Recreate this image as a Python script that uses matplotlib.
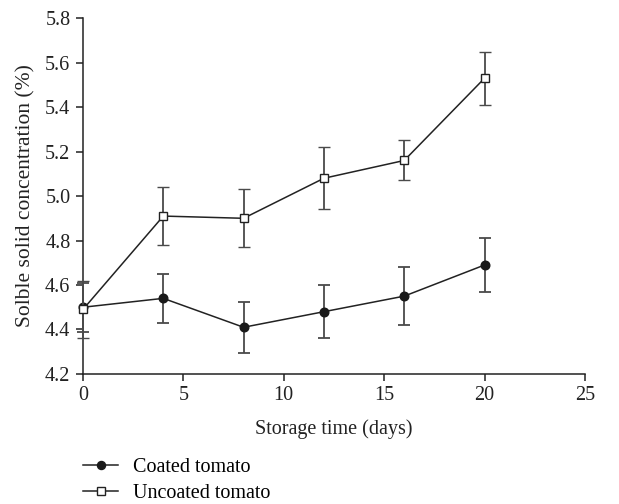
import matplotlib
matplotlib.use("Agg")
import matplotlib.pyplot as plt
from matplotlib.lines import Line2D

plt.rcParams['font.family'] = ['Liberation Serif', 'DejaVu Serif']

days = [0, 4, 8, 12, 16, 20]
coated = [4.50, 4.54, 4.41, 4.48, 4.55, 4.69]
coated_err = [0.11, 0.11, 0.115, 0.12, 0.13, 0.12]
uncoated = [4.49, 4.91, 4.90, 5.08, 5.16, 5.53]
uncoated_err = [0.13, 0.13, 0.13, 0.14, 0.09, 0.12]
xticks = [0, 5, 10, 15, 20, 25]
yticks = [4.2, 4.4, 4.6, 4.8, 5.0, 5.2, 5.4, 5.6, 5.8]

FS = 14.5
fig = plt.figure(figsize=(6.19, 5.04), dpi=100)
ax = fig.add_axes([0.134, 0.258, 0.811, 0.706])

ax.errorbar(days, coated, yerr=coated_err, color='#222222', ecolor='#4a4a4a',
            marker='o', markersize=6.2, markerfacecolor='#1a1a1a', markeredgecolor='#1a1a1a',
            linewidth=1.1, capsize=4.5, elinewidth=1.3, capthick=1.3, clip_on=False, zorder=3)
ax.errorbar(days, uncoated, yerr=uncoated_err, color='#222222', ecolor='#4a4a4a',
            marker='s', markersize=6, markerfacecolor='white', markeredgecolor='#222222',
            markeredgewidth=1.0, linewidth=1.1, capsize=4.5, elinewidth=1.3, capthick=1.3,
            clip_on=False, zorder=4)

ax.set_xlim(0, 25)
ax.set_ylim(4.2, 5.8)
ax.set_xticks(xticks)
ax.set_yticks(yticks)
ax.set_yticklabels([f"{v:.1f}" for v in yticks])
for s in ['top', 'right']:
    ax.spines[s].set_visible(False)
for s in ['left', 'bottom']:
    ax.spines[s].set_linewidth(1.1)
    ax.spines[s].set_color('#222222')
ax.tick_params(direction='out', length=5, width=1.1, labelsize=FS, colors='#222222', pad=4)
ax.set_xlabel('Storage time (days)', fontsize=FS, color='#222222', labelpad=10)
ax.set_ylabel('Solble solid concentration (%)', fontsize=15.5, color='#222222', labelpad=7)

handles = [
    Line2D([0], [0], color='#222222', marker='o', markersize=5.8, markerfacecolor='#1a1a1a',
           markeredgecolor='#1a1a1a', linewidth=1.1),
    Line2D([0], [0], color='#222222', marker='s', markersize=5.5, markerfacecolor='white',
           markeredgecolor='#222222', linewidth=1.1),
]
fig.legend(handles, ['Coated tomato', 'Uncoated tomato'], loc='center left',
           bbox_to_anchor=(0.134, 0.047), frameon=False, fontsize=FS, handlelength=1.75,
           handletextpad=0.75, labelspacing=0.36, borderaxespad=0, borderpad=0)

fig.savefig('out.png', dpi=100)
